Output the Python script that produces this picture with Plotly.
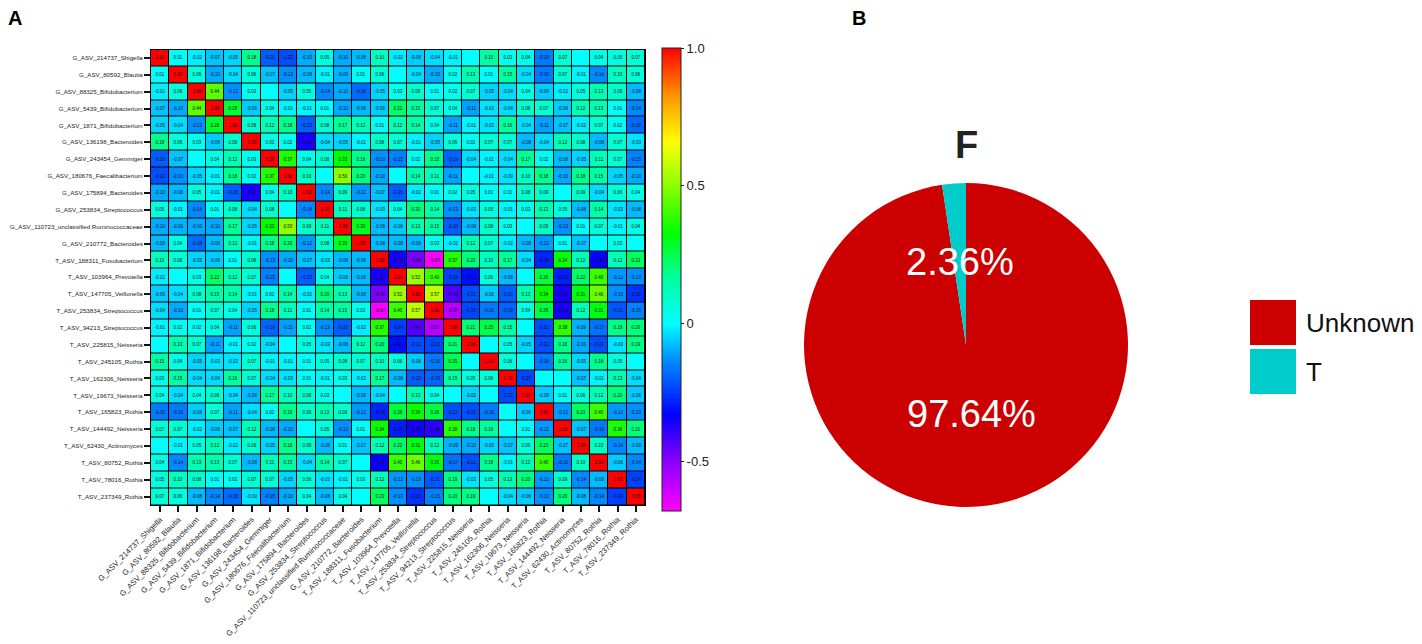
import plotly.graph_objects as go
import math

# ---------------- data ----------------
taxa = [
    "G_ASV_214737_Shigella", "G_ASV_80592_Blautia", "G_ASV_88325_Bifidobacterium",
    "G_ASV_5439_Bifidobacterium", "G_ASV_1871_Bifidobacterium", "G_ASV_136198_Bacteroides",
    "G_ASV_243454_Gemmiger", "G_ASV_180676_Faecalibacterium", "G_ASV_175894_Bacteroides",
    "G_ASV_253834_Streptococcus", "G_ASV_110723_unclassified Ruminococcaceae",
    "G_ASV_210772_Bacteroides", "T_ASV_188311_Fusobacterium", "T_ASV_103964_Prevotella",
    "T_ASV_147705_Veillonella", "T_ASV_253834_Streptococcus", "T_ASV_94213_Streptococcus",
    "T_ASV_225815_Neisseria", "T_ASV_245105_Rothia", "T_ASV_162306_Neisseria",
    "T_ASV_19673_Neisseria", "T_ASV_165823_Rothia", "T_ASV_144492_Neisseria",
    "T_ASV_62430_Actinomyces", "T_ASV_80752_Rothia", "T_ASV_78016_Rothia",
    "T_ASV_237349_Rothia",
]

r00 = [1.00, 0.01, -0.02, -0.07, -0.05, 0.18, -0.20, -0.22, -0.10, 0.05, -0.10, -0.08, 0.10, -0.02, -0.06, -0.04, -0.01, 0, 0.15, 0.03, 0.04, -0.16, 0.07, 0, 0.04, 0.05, 0.07]
r01 = [0.01, 1.00, 0.06, -0.10, -0.04, 0.06, -0.07, -0.13, -0.08, -0.01, -0.09, 0.01, 0.06, 0, -0.04, -0.10, 0.02, 0.13, 0.01, 0.15, -0.04, -0.16, 0.07, -0.01, -0.14, 0.10, 0.06]
r02 = [-0.02, 0.06, 1.00, 0.44, -0.13, 0.03, 0, -0.05, 0.05, -0.14, -0.10, -0.18, -0.05, 0.03, 0.08, 0.01, 0.02, 0.07, -0.05, -0.04, 0.04, -0.06, -0.02, 0.05, 0.13, 0.08, -0.08]
r03 = [-0.07, -0.10, 0.44, 1.00, 0.28, -0.06, 0.04, -0.01, -0.01, 0.01, -0.10, -0.08, -0.06, 0.22, 0.15, 0.07, 0.04, -0.11, -0.03, -0.04, 0.08, 0.07, -0.06, 0.12, 0.13, 0.01, -0.14]
r04 = [-0.05, -0.04, -0.13, 0.28, 1.00, 0.08, 0.12, 0.18, -0.20, 0.08, 0.17, 0.12, 0.01, 0.12, 0.14, 0.04, -0.11, -0.01, -0.03, 0.16, -0.04, -0.11, -0.07, -0.02, 0.07, 0.02, -0.18]
r05 = [0.18, 0.06, 0.03, -0.06, 0.08, 1.00, 0.03, 0.02, -0.36, -0.04, -0.05, -0.01, 0.08, 0.07, -0.01, -0.05, 0.06, 0.02, 0.07, 0.07, -0.08, -0.04, 0.12, 0.08, -0.08, 0.07, -0.03]
r06 = [-0.20, -0.07, 0, 0.04, 0.12, 0.03, 1.00, 0.37, 0.04, 0.08, 0.33, 0.18, -0.13, -0.15, 0.02, 0.18, -0.19, -0.04, -0.01, -0.04, 0.17, 0.02, -0.08, -0.05, 0.11, 0.07, -0.15]
r07 = [-0.22, -0.13, -0.05, -0.01, 0.18, 0.02, 0.37, 1.00, 0.10, 0, 0.50, 0.20, -0.10, 0, 0.14, 0.11, -0.11, 0, -0.01, -0.03, 0.10, 0.18, -0.10, 0.18, 0.15, -0.05, -0.10]
r08 = [-0.10, -0.08, 0.05, -0.01, -0.20, -0.36, 0.04, 0.10, 1.00, -0.14, 0.09, -0.12, -0.07, -0.20, -0.02, 0.01, 0.02, 0.05, 0.01, 0.01, 0.08, 0.09, 0, 0.09, -0.04, 0.06, 0.04]
r09 = [0.05, -0.01, -0.14, 0.01, 0.08, -0.04, 0.08, 0, -0.14, 1.00, 0.11, 0.08, -0.03, 0.04, 0.20, 0.14, -0.13, -0.03, 0.05, -0.01, 0.03, 0.13, 0.05, -0.08, 0.14, -0.03, -0.08]
r10 = [-0.10, -0.09, -0.10, -0.10, 0.17, -0.05, 0.33, 0.50, 0.09, 0.11, 1.00, 0.30, -0.08, -0.06, 0.13, 0.15, -0.20, -0.08, 0.08, 0.03, 0, 0.09, -0.13, 0.01, 0.07, -0.01, 0.04]
r11 = [-0.08, 0.04, -0.18, -0.08, 0.12, -0.01, 0.18, 0.20, -0.12, 0.08, 0.30, 1.00, -0.08, -0.08, -0.08, 0.03, -0.02, 0.12, 0.07, -0.02, -0.08, -0.12, 0.01, -0.07, 0, 0.03, 0]
r12 = [0.10, 0.06, -0.05, -0.06, 0.01, 0.08, -0.13, -0.10, -0.07, -0.03, -0.08, -0.08, 1.00, -0.36, -0.48, -0.67, 0.37, 0.20, 0.10, 0.17, -0.04, -0.28, 0.34, 0.12, -0.34, 0.12, 0.23]
r13 = [-0.02, 0, 0.03, 0.22, 0.12, 0.07, -0.15, 0, -0.20, 0.04, -0.06, -0.08, -0.36, 1.00, 0.52, 0.40, -0.24, -0.31, 0.06, -0.08, 0, 0.26, -0.29, 0.22, 0.40, -0.12, -0.13]
r14 = [-0.06, -0.04, 0.08, 0.15, 0.14, -0.01, 0.02, 0.14, -0.02, 0.20, 0.13, -0.08, -0.48, 0.52, 1.00, 0.57, -0.43, -0.22, -0.06, -0.20, 0.13, 0.34, -0.36, 0.31, 0.46, -0.13, -0.26]
r15 = [-0.04, -0.10, 0.01, 0.07, 0.04, -0.05, 0.18, 0.11, 0.01, 0.14, 0.15, 0.03, -0.67, 0.40, 0.57, 1.00, -0.57, -0.23, -0.16, -0.19, 0.04, 0.26, -0.36, 0.12, 0.31, -0.21, -0.15]
r16 = [-0.01, 0.02, 0.02, 0.04, -0.11, 0.06, -0.19, -0.11, 0.02, -0.13, -0.20, -0.02, 0.37, -0.24, -0.43, -0.57, 1.00, 0.21, 0.25, 0.15, 0, -0.22, 0.38, -0.09, -0.17, 0.19, 0.20]
r17 = [0, 0.13, 0.07, -0.11, -0.01, 0.02, -0.04, 0, 0.05, -0.03, -0.08, 0.12, 0.20, -0.31, -0.22, -0.23, 0.21, 1.00, 0, 0.05, -0.05, -0.22, 0.18, -0.10, -0.22, -0.03, 0.19]
r18 = [0.15, 0.04, -0.05, -0.03, -0.03, 0.07, -0.01, -0.01, 0.01, 0.05, 0.08, 0.07, 0.10, 0.06, -0.06, -0.16, 0.25, 0, 1.00, 0.06, 0, -0.16, 0.16, -0.05, 0.18, 0.05, 0]
r19 = [0.03, 0.15, -0.04, -0.04, 0.16, 0.07, -0.04, -0.03, 0.01, -0.01, 0.03, -0.02, 0.17, -0.08, -0.20, -0.19, 0.15, 0.05, 0.06, 1.00, -0.23, 0, 0, -0.07, -0.01, 0.13, -0.04]
r20 = [0.04, -0.04, 0.04, 0.08, -0.04, -0.08, 0.17, 0.10, 0.08, 0.03, 0, -0.08, -0.04, 0, 0.13, 0.04, 0, -0.05, 0, -0.23, 1.00, -0.06, 0.01, 0.06, 0.12, 0.20, -0.06]
r21 = [-0.16, -0.16, -0.06, 0.07, -0.11, -0.04, 0.02, 0.18, 0.09, 0.13, 0.09, -0.12, -0.28, 0.26, 0.34, 0.26, -0.22, -0.22, -0.16, 0, -0.06, 1.00, -0.12, 0.23, 0.40, -0.12, -0.13]
r22 = [0.07, 0.07, -0.02, -0.06, -0.07, 0.12, -0.08, -0.10, 0, 0.05, -0.13, 0.01, 0.34, -0.29, -0.36, -0.38, 0.38, 0.18, 0.16, 0, 0.01, -0.12, 1.00, -0.07, -0.16, 0.36, 0.20]
r23 = [0, -0.01, 0.05, 0.12, -0.02, 0.08, -0.05, 0.18, 0.09, -0.08, 0.01, -0.07, 0.12, 0.22, 0.31, 0.12, -0.09, -0.10, -0.05, -0.07, 0.06, 0.23, -0.07, 1.00, 0.10, -0.14, -0.08]
r24 = [0.04, -0.14, 0.13, 0.13, 0.07, -0.08, 0.11, 0.15, -0.04, 0.14, 0.07, 0, -0.34, 0.40, 0.46, 0.31, -0.17, -0.22, 0.18, -0.01, 0.12, 0.40, -0.16, 0.10, 1.00, -0.06, -0.14]
r25 = [0.05, 0.10, 0.08, 0.01, 0.02, 0.07, 0.07, -0.05, 0.06, -0.03, -0.01, 0.03, 0.12, -0.12, -0.13, -0.21, 0.19, -0.03, 0.05, 0.13, 0.20, -0.12, 0.09, -0.14, -0.08, 1.00, -0.24]
r26 = [0.07, 0.06, -0.08, -0.14, -0.18, -0.03, -0.15, -0.10, 0.04, -0.08, 0.04, 0, 0.23, -0.13, -0.26, -0.15, 0.20, 0.19, 0, -0.04, -0.06, -0.13, 0.20, -0.08, -0.14, -0.24, 1.00]

corr_rows = [r00, r01, r02, r03, r04, r05, r06, r07, r08, r09, r10, r11, r12, r13,
             r14, r15, r16, r17, r18, r19, r20, r21, r22, r23, r24, r25, r26]

colorbar_ticks = [-0.5, 0, 0.5, 1.0]
colorbar_ticktext = ["-0.5", "0", "0.5", "1.0"]

pie_labels = ["Unknown", "T"]
pie_values = [97.64, 2.36]
pie_colors = ["#CC0000", "#00CCCC"]
pie_title = "F"

# ---------------- layout helpers ----------------
W, H = 1422, 644
FONT = "Liberation Sans, Arial, sans-serif"

def px_x(x):
    return x / W

def px_y(y):
    return 1 - y / H

ZMIN, ZMAX = -0.68, 1.0
def cs_pos(v):
    return (v - ZMIN) / (ZMAX - ZMIN)

colorscale = [
    [cs_pos(-0.68), "#ff00ff"],
    [cs_pos(-0.50), "#8a00ff"],
    [cs_pos(-0.33), "#0000ff"],
    [cs_pos(-0.13), "#0090ff"],
    [cs_pos(0.00), "#00ffff"],
    [cs_pos(0.17), "#00ff99"],
    [cs_pos(0.33), "#00ff00"],
    [cs_pos(0.50), "#8cff00"],
    [cs_pos(0.66), "#ffff00"],
    [cs_pos(0.82), "#ff9900"],
    [cs_pos(1.00), "#ff0000"],
]

cell_text = [["" if v == 0 else f"{v:.2f}" for v in row] for row in corr_rows]

fig = go.Figure()

cb_x, cb_top, cb_bot = 654, 40, 503
fig.add_trace(go.Heatmap(
    z=corr_rows,
    x=taxa,
    y=taxa,
    text=cell_text,
    texttemplate="%{text}",
    textfont=dict(size=4.5, color="#111111", family=FONT),
    colorscale=colorscale,
    zmin=ZMIN, zmax=ZMAX,
    xgap=1, ygap=1,
    hoverinfo="skip",
    colorbar=dict(
        x=px_x(cb_x), xanchor="left", xpad=0,
        y=px_y((cb_top + cb_bot) / 2), yanchor="middle", ypad=0,
        lenmode="pixels", len=cb_bot - cb_top,
        thickness=19,
        outlinecolor="#222222", outlinewidth=1,
        tickvals=colorbar_ticks, ticktext=colorbar_ticktext,
        ticks="outside", ticklen=3, tickcolor="#222222",
        tickfont=dict(size=13, color="#222222", family=FONT),
    ),
))

heat_x0, heat_x1 = 143, 637
heat_y0, heat_y1 = 41.5, 497

fig.update_xaxes(
    domain=[px_x(heat_x0), px_x(heat_x1)],
    automargin=False,
    tickangle=-45,
    tickfont=dict(size=7.7, color="#222222", family=FONT),
    ticks="outside", ticklen=6, tickwidth=2, tickcolor="#111111",
    showgrid=False, zeroline=False,
    showline=True, linecolor="#000000", linewidth=1, mirror=True,
)
fig.update_yaxes(
    domain=[px_y(heat_y1), px_y(heat_y0)],
    automargin=False,
    autorange="reversed",
    tickfont=dict(size=6.2, color="#222222", family=FONT),
    ticks="outside", ticklen=6, tickwidth=2, tickcolor="#111111",
    showgrid=False, zeroline=False,
    showline=True, linecolor="#000000", linewidth=1, mirror=True,
)

# ---------------- pie ----------------
pie_cx, pie_cy, pie_r = 958, 337, 162
fig.add_trace(go.Pie(
    labels=pie_labels,
    values=pie_values,
    marker=dict(colors=pie_colors, line=dict(width=0)),
    sort=False,
    direction="clockwise",
    rotation=0,
    textinfo="none",
    hoverinfo="skip",
    showlegend=False,
    domain=dict(x=[px_x(pie_cx - pie_r), px_x(pie_cx + pie_r)],
                y=[px_y(pie_cy + pie_r), px_y(pie_cy - pie_r)]),
))

annotations = []
total = sum(pie_values)
cum = 0.0
label_dy = -7
for lab, val in zip(pie_labels, pie_values):
    mid = (cum + val / 2) / total * 2 * math.pi
    cum += val
    ax = pie_cx + 0.47 * pie_r * math.sin(mid)
    ay = pie_cy - 0.47 * pie_r * math.cos(mid) + label_dy
    annotations.append(dict(
        x=px_x(ax), y=px_y(ay), xref="paper", yref="paper",
        text=f"{val:.2f}%", showarrow=False,
        font=dict(size=38, color="white", family=FONT),
        xanchor="center", yanchor="middle",
    ))

# pie title
annotations.append(dict(
    x=px_x(pie_cx), y=px_y(137), xref="paper", yref="paper",
    text=f"<b>{pie_title}</b>", showarrow=False,
    font=dict(size=38, color="#222222", family=FONT),
    xanchor="center", yanchor="middle",
))

# panel letters
annotations.append(dict(x=px_x(7), y=px_y(10), xref="paper", yref="paper",
                        text="<b>A</b>", showarrow=False,
                        font=dict(size=20, color="#000000", family=FONT),
                        xanchor="center", yanchor="middle"))
annotations.append(dict(x=px_x(851), y=px_y(10), xref="paper", yref="paper",
                        text="<b>B</b>", showarrow=False,
                        font=dict(size=20, color="#000000", family=FONT),
                        xanchor="center", yanchor="middle"))

# manual legend for pie
shapes = []
leg_x0, leg_x1 = 1242, 1288
leg_tops = [292, 341]
leg_h = 45
for lab, col, top in zip(pie_labels, pie_colors, leg_tops):
    shapes.append(dict(type="rect", xref="paper", yref="paper",
                       x0=px_x(leg_x0), x1=px_x(leg_x1),
                       y0=px_y(top + leg_h), y1=px_y(top),
                       fillcolor=col, line=dict(width=0)))
    annotations.append(dict(x=px_x(1296), y=px_y(top + leg_h / 2), xref="paper", yref="paper",
                            text=lab, showarrow=False,
                            font=dict(size=26, color="#111111", family=FONT),
                            xanchor="left", yanchor="middle"))

fig.update_layout(
    width=W, height=H,
    margin=dict(l=0, r=0, t=0, b=0, autoexpand=False),
    paper_bgcolor="white",
    plot_bgcolor="black",
    font=dict(family=FONT),
    annotations=annotations,
    shapes=shapes,
    showlegend=False,
)

fig.write_html("out.html")
